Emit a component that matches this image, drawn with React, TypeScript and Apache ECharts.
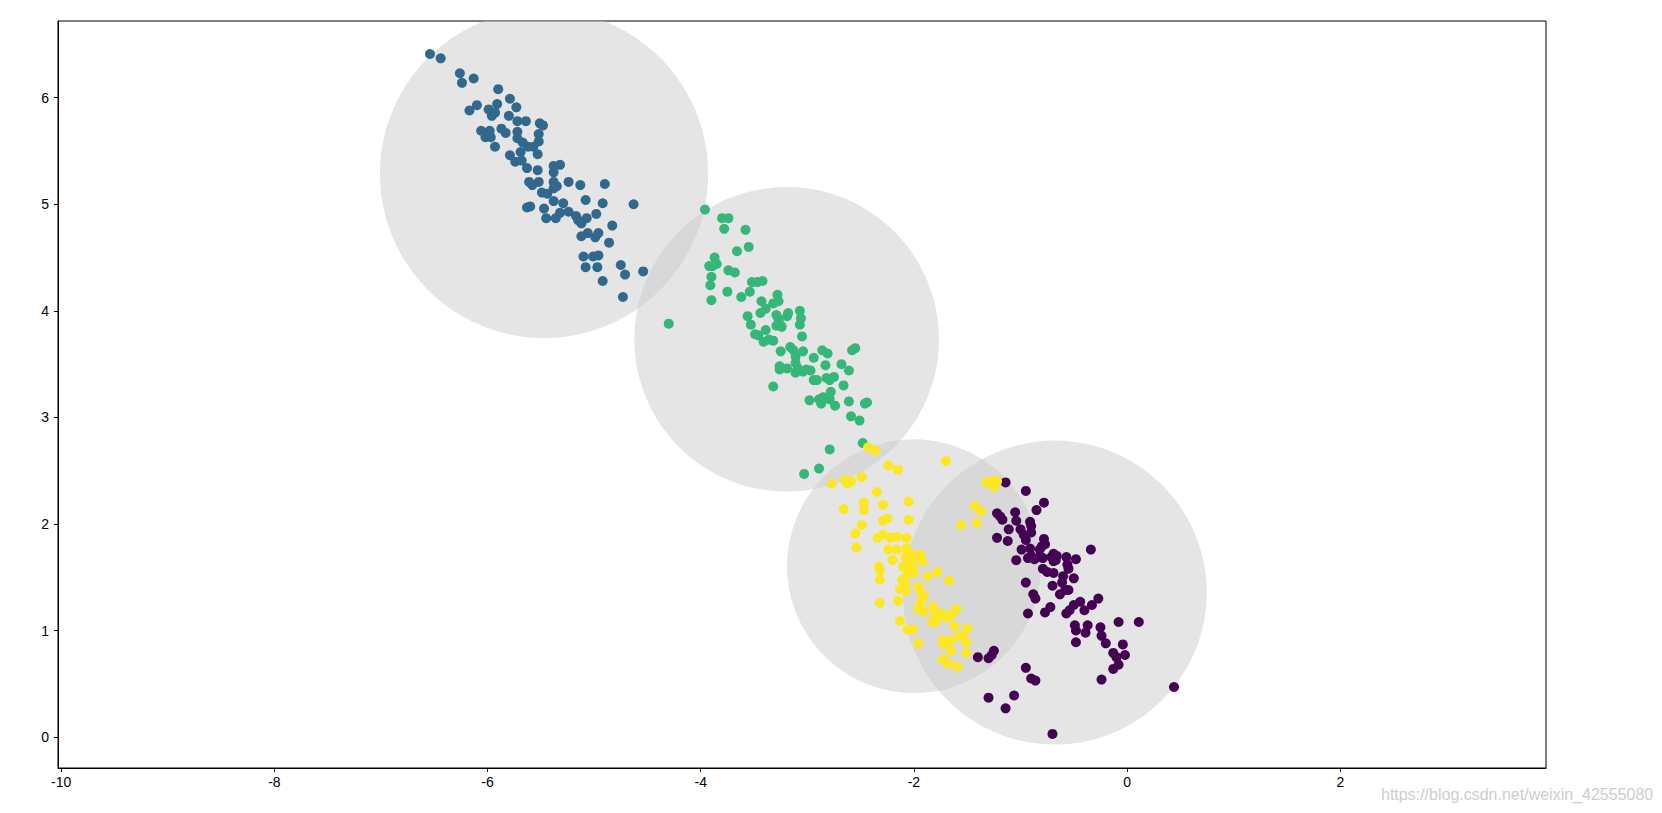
import React, { useEffect, useRef } from "react";
import * as echarts from "echarts";

// ---- data ----
const xTicks = [-10, -8, -6, -4, -2, 0, 2];
const yTicks = [0, 1, 2, 3, 4, 5, 6];
const xRange = [-10.03, 3.93];
const yRange = [-0.29, 6.72];

const clusterColors = ["#440154", "#31688e", "#35b779", "#fde725"];

// cluster 0 (purple)
const cluster0 = [
  [-1.14, 2.39], [-0.95, 2.31], [-0.78, 2.2], [-0.85, 2.13], [-1.22, 2.1], [-1.19, 2.07], [-1.17, 2.04],
  [-1.05, 2.11], [-1.04, 2.03], [-0.91, 2.02], [-0.9, 1.98], [-1.11, 1.95], [-1.0, 1.95], [-0.97, 1.9],
  [-0.95, 1.85], [-0.9, 1.92], [-1.22, 1.87], [-1.12, 1.84], [-0.78, 1.86], [-0.77, 1.81], [-0.8, 1.79],
  [-0.99, 1.76], [-0.91, 1.77], [-0.9, 1.7], [-0.93, 1.68], [-0.87, 1.67], [-0.82, 1.76], [-0.82, 1.69],
  [-0.79, 1.68], [-0.69, 1.72], [-0.66, 1.7], [-0.69, 1.65], [-0.67, 1.66], [-0.71, 1.69], [-0.57, 1.69],
  [-0.48, 1.67], [-0.34, 1.76], [-1.04, 1.66], [-0.79, 1.58], [-0.75, 1.55], [-0.69, 1.54], [-0.56, 1.62],
  [-0.55, 1.58], [-0.6, 1.51], [-0.61, 1.45], [-0.5, 1.49], [-0.95, 1.45], [-0.7, 1.42], [-0.58, 1.38],
  [-0.55, 1.38], [-0.88, 1.34], [-0.86, 1.3], [-0.63, 1.34], [-0.44, 1.27], [-0.27, 1.3],
  [-0.93, 1.16], [-0.77, 1.17], [-0.72, 1.22], [-0.57, 1.16], [-0.54, 1.19], [-0.5, 1.24], [-0.4, 1.19],
  [-0.33, 1.24], [-0.49, 1.05], [-0.48, 1.0], [-0.37, 1.05], [-0.39, 0.98], [-0.48, 0.89], [-0.25, 1.03],
  [-0.24, 0.95], [-0.2, 0.88], [-0.08, 1.08], [0.11, 1.08], [-0.04, 0.87], [-0.13, 0.79], [-0.1, 0.75],
  [-0.02, 0.77], [-0.08, 0.68], [-0.13, 0.64], [-0.24, 0.54], [0.44, 0.47], [-1.4, 0.75], [-1.3, 0.74],
  [-1.27, 0.77], [-1.25, 0.81], [-0.95, 0.65], [-0.9, 0.55], [-0.86, 0.53], [-1.3, 0.37], [-1.06, 0.39],
  [-1.14, 0.27], [-0.7, 0.03],
];

// cluster 1 (blue)
const cluster1 = [
  [-6.54, 6.41], [-6.44, 6.37], [-6.26, 6.23], [-6.24, 6.14], [-6.13, 6.18], [-5.9, 6.08], [-5.79, 5.99],
  [-5.73, 5.91], [-5.91, 5.94], [-6.1, 5.93], [-6.17, 5.88], [-5.99, 5.89], [-5.96, 5.83], [-5.93, 5.86],
  [-5.8, 5.83], [-5.72, 5.78], [-5.64, 5.78], [-5.51, 5.76], [-5.48, 5.74], [-6.06, 5.69], [-6.02, 5.67],
  [-5.98, 5.69], [-6.02, 5.63], [-5.97, 5.63], [-5.87, 5.71], [-5.83, 5.67], [-5.72, 5.68], [-5.72, 5.62],
  [-5.93, 5.54], [-5.67, 5.58], [-5.62, 5.54], [-5.52, 5.66], [-5.52, 5.59], [-5.57, 5.54], [-5.69, 5.49],
  [-5.79, 5.46], [-5.53, 5.47], [-5.74, 5.4], [-5.68, 5.41], [-5.63, 5.34], [-5.53, 5.32], [-5.38, 5.36],
  [-5.32, 5.37], [-5.38, 5.3],
  [-5.61, 5.21], [-5.58, 5.18], [-5.52, 5.21], [-5.38, 5.21], [-5.38, 5.15], [-5.35, 5.17], [-5.24, 5.21],
  [-5.13, 5.18], [-4.9, 5.19], [-5.49, 5.11], [-5.44, 5.1], [-5.38, 5.03], [-5.29, 5.01], [-5.08, 5.04],
  [-4.92, 5.01], [-4.63, 5.0], [-5.63, 4.97], [-5.6, 4.98], [-5.47, 4.96], [-5.45, 4.87], [-5.36, 4.87],
  [-5.32, 4.92], [-5.24, 4.93], [-5.17, 4.89], [-5.15, 4.85], [-5.12, 4.82], [-5.07, 4.87], [-4.98, 4.91],
  [-4.83, 4.8], [-5.12, 4.7], [-5.06, 4.73], [-4.99, 4.69], [-4.96, 4.73], [-4.86, 4.64], [-5.1, 4.51],
  [-5.01, 4.51], [-4.96, 4.52], [-5.08, 4.41], [-4.97, 4.41], [-4.75, 4.43], [-4.71, 4.34], [-4.54, 4.37],
  [-4.92, 4.28], [-4.73, 4.13],
];

// cluster 2 (green)
const cluster2 = [
  [-3.96, 4.95], [-3.8, 4.87], [-3.74, 4.87], [-3.78, 4.77], [-3.58, 4.76], [-3.66, 4.56], [-3.55, 4.6],
  [-3.87, 4.5], [-3.92, 4.42], [-3.85, 4.44], [-3.89, 4.42], [-3.74, 4.38], [-3.68, 4.36], [-3.9, 4.32],
  [-3.91, 4.24], [-3.9, 4.1], [-3.75, 4.18], [-3.62, 4.13], [-3.52, 4.27], [-3.47, 4.27], [-3.42, 4.28],
  [-3.54, 4.18], [-4.3, 3.88], [-3.28, 4.15],
  [-3.43, 4.09], [-3.32, 4.07], [-3.27, 4.09], [-3.56, 3.95], [-3.53, 3.87], [-3.44, 3.98], [-3.39, 4.02],
  [-3.29, 3.96], [-3.27, 3.92], [-3.29, 3.86], [-3.24, 3.85], [-3.26, 3.88], [-3.18, 3.98], [-3.19, 3.95],
  [-3.07, 4.0], [-3.06, 3.93], [-3.07, 3.87], [-3.49, 3.78], [-3.46, 3.77], [-3.41, 3.71], [-3.39, 3.82],
  [-3.36, 3.73], [-3.32, 3.72], [-3.25, 3.62], [-3.16, 3.66], [-3.13, 3.63], [-3.04, 3.62], [-3.11, 3.57],
  [-3.11, 3.51], [-3.09, 3.46], [-3.11, 3.42], [-3.26, 3.48], [-3.26, 3.45], [-3.19, 3.46], [-3.05, 3.76],
  [-2.94, 3.56], [-2.86, 3.63], [-2.81, 3.6], [-2.83, 3.49], [-3.01, 3.45], [-2.97, 3.44], [-3.04, 3.43],
  [-2.94, 3.35], [-2.91, 3.35], [-2.82, 3.37], [-2.79, 3.35], [-2.75, 3.38], [-2.68, 3.5], [-2.61, 3.44],
  [-2.58, 3.63], [-2.55, 3.65], [-2.66, 3.3], [-3.32, 3.29], [-2.98, 3.16], [-2.89, 3.17], [-2.87, 3.13],
  [-2.85, 3.19], [-2.79, 3.17], [-2.78, 3.24], [-2.74, 3.11], [-2.61, 3.15], [-2.46, 3.13], [-2.44, 3.14],
  [-2.59, 3.01], [-2.51, 2.97], [-2.48, 2.76], [-2.79, 2.7], [-2.89, 2.52], [-3.03, 2.47],
];

// cluster 3 (yellow)
const cluster3 = [
  [-2.43, 2.72], [-2.36, 2.69], [-2.24, 2.55], [-2.15, 2.51], [-1.7, 2.59], [-2.77, 2.38], [-2.65, 2.41],
  [-2.62, 2.38], [-2.59, 2.4], [-2.49, 2.44], [-2.35, 2.3], [-2.47, 2.2], [-2.47, 2.13], [-2.66, 2.14],
  [-2.29, 2.18], [-2.05, 2.21], [-2.29, 2.03], [-2.25, 2.05], [-2.05, 2.04], [-2.49, 1.99], [-2.55, 1.91],
  [-2.54, 1.78], [-2.34, 1.87], [-2.29, 1.9], [-2.22, 1.87], [-2.16, 1.88], [-2.07, 1.87], [-2.24, 1.76],
  [-2.16, 1.76], [-2.07, 1.77], [-2.04, 1.73], [-1.56, 1.99], [-1.41, 2.01], [-1.43, 2.17], [-1.37, 2.12],
  [-1.32, 2.39], [-1.25, 2.41], [-1.25, 2.35], [-1.22, 2.4],
  [-2.2, 1.66], [-2.08, 1.69], [-1.99, 1.69], [-1.94, 1.71], [-1.92, 1.65], [-2.33, 1.6], [-2.32, 1.56],
  [-2.32, 1.48], [-2.1, 1.6], [-2.04, 1.62], [-2.01, 1.59], [-2.0, 1.54], [-2.06, 1.53], [-2.11, 1.48],
  [-2.08, 1.43], [-2.13, 1.39], [-2.08, 1.37], [-1.87, 1.51], [-1.78, 1.55], [-1.67, 1.47], [-2.32, 1.26],
  [-2.15, 1.28], [-1.96, 1.41], [-1.94, 1.37], [-1.91, 1.32], [-1.94, 1.26], [-1.96, 1.2], [-1.91, 1.18],
  [-1.82, 1.22], [-1.8, 1.15], [-1.77, 1.13], [-1.74, 1.16], [-1.83, 1.08], [-1.8, 1.08], [-1.69, 1.12],
  [-1.65, 1.15], [-1.6, 1.2], [-1.62, 1.04], [-2.13, 1.09], [-2.06, 1.01], [-2.01, 1.01], [-1.96, 0.88],
  [-1.73, 0.91], [-1.72, 0.87], [-1.65, 0.91], [-1.65, 0.81], [-1.57, 0.95], [-1.54, 0.94], [-1.5, 1.02],
  [-1.51, 0.89], [-1.51, 0.79], [-1.73, 0.73], [-1.68, 0.69], [-1.59, 0.66],
];

// k-means centres and radii (max distance) per cluster
const circleCenters = [
  [-0.679, 1.356],
  [-5.47, 5.285],
  [-3.194, 3.733],
  [-2.0, 1.604],
];
const circleRadii = [1.426, 1.54, 1.429, 1.19];

const watermark = "https://blog.csdn.net/weixin_42555080";

export default function App() {
  const ref = useRef<HTMLDivElement>(null);

  useEffect(() => {
    if (!ref.current) return;
    const chart = echarts.init(ref.current, null, { renderer: "svg" });
    const font = "'Liberation Sans', Arial, sans-serif";
    const clusters = [cluster0, cluster1, cluster2, cluster3];
    const circleData = circleCenters.map((c, i) => [c[0], c[1], circleRadii[i]]);

    chart.setOption({
      animation: false,
      backgroundColor: "#ffffff",
      grid: {
        left: 58,
        top: 21,
        right: 116,
        bottom: 45,
        show: true,
        borderColor: "#000",
        borderWidth: 1,
        backgroundColor: "transparent",
      },
      xAxis: {
        type: "value",
        min: xRange[0],
        max: xRange[1],
        splitLine: { show: false },
        axisLine: { show: true, onZero: false, lineStyle: { color: "#000", width: 1 } },
        axisTick: { show: true, length: 4, lineStyle: { color: "#000" }, customValues: xTicks },
        axisLabel: {
          customValues: xTicks,
          color: "#000",
          fontSize: 14,
          fontFamily: font,
          margin: 7,
        },
      },
      yAxis: {
        type: "value",
        min: yRange[0],
        max: yRange[1],
        splitLine: { show: false },
        axisLine: { show: true, onZero: false, lineStyle: { color: "#000", width: 1 } },
        axisTick: { show: true, length: 4, lineStyle: { color: "#000" }, customValues: yTicks },
        axisLabel: {
          customValues: yTicks,
          color: "#000",
          fontSize: 14,
          fontFamily: font,
          margin: 9,
        },
      },
      graphic: [
        {
          type: "text",
          left: 1381,
          top: 786,
          style: {
            text: watermark,
            fill: "#cdcdcd",
            font: "16px 'Liberation Sans', Arial, sans-serif",
          },
        },
      ],
      series: [
        {
          type: "custom",
          name: "circles",
          clip: true,
          z: 1,
          encode: { x: 0, y: 1 },
          data: circleData,
          renderItem: (params: any, api: any) => {
            const c = api.coord([api.value(0), api.value(1)]);
            const r = api.size([api.value(2), 0])[0];
            return {
              type: "circle",
              shape: { cx: c[0], cy: c[1], r },
              style: { fill: "rgba(204,204,204,0.5)" },
            };
          },
        },
        ...clusters.map((pts, i) => ({
          type: "scatter",
          name: "cluster" + i,
          z: 2,
          symbol: "circle",
          symbolSize: 10,
          itemStyle: { color: clusterColors[i], opacity: 1 },
          data: pts,
        })),
      ],
    });

    return () => chart.dispose();
  }, []);

  return (
    <div
      ref={ref}
      style={{ position: "fixed", left: 0, top: 0, width: 1662, height: 813, background: "#fff" }}
    />
  );
}
